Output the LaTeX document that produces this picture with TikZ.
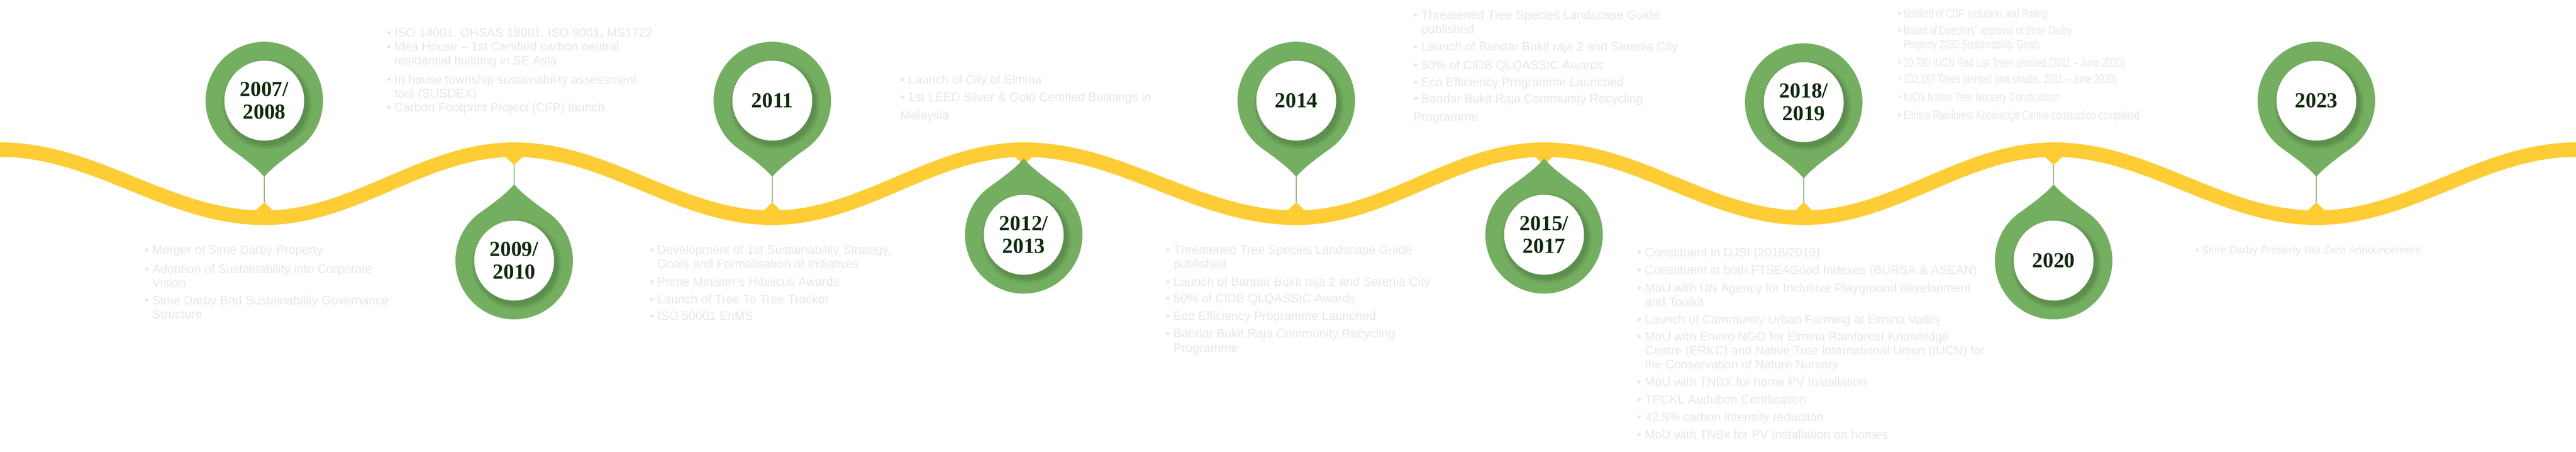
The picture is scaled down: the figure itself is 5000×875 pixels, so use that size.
\documentclass[tikz,border=0pt]{standalone}
\usepackage{fontspec}
\setmainfont{Liberation Sans}
\newfontfamily\narrowfont[FakeStretch=0.71]{Liberation Sans}
\newfontfamily\yearfont{Liberation Serif}
\definecolor{pingreen}{RGB}{116,175,97}
\definecolor{wavey}{RGB}{254,204,52}
\definecolor{yeartext}{RGB}{14,42,14}
\definecolor{notecol}{RGB}{231,231,231}
\definecolor{stemcol}{RGB}{140,186,124}
\tikzset{
  yearlabel/.style={align=center, inner sep=0pt, text=yeartext,
    font=\yearfont\bfseries\fontsize{11.8}{12.5}\selectfont},
  notes/.style={align=left, anchor=north west, inner sep=0pt, text=notecol,
    font=\fontsize{6.8}{7.7}\selectfont},
  narrownotes/.style={notes, font=\narrowfont\fontsize{6.9}{7.7}\selectfont},
  smallnotes/.style={notes, font=\fontsize{5.9}{7}\selectfont},
  stemline/.style={draw=stemcol, line width=0.45pt},
  wavestyle/.style={draw=wavey, line width=0.28cm},
}
\newcommand\bl{\textbullet\ }
\newcommand\ind{\hphantom{\textbullet\ }}
\newcommand\topstrut{\rule{0pt}{6pt}}
% pin: x, y, flip (1 = circle above tip, -1 = circle below tip)
\newcommand\pinat[3]{%
  \begin{scope}[shift={(#1,#2)}]
    \begin{scope}[yscale=#3]
      \fill[pingreen] (0,148) .. controls (12,132) and (46,107) .. (54.3:114)
        arc[start angle=54.3, end angle=-234.3, radius=114]
        .. controls (-46,107) and (-12,132) .. (0,148) -- cycle;
    \end{scope}
    \foreach \i in {0,...,7}{\fill[black, opacity=0.022] (5,7) circle[radius={88-1.4*\i}];}
    \fill[white] (0,0) circle[radius=77.5];
  \end{scope}}
\newcommand\bumpup[1]{\fill[wavey] (#1-20,411) -- (#1,392) -- (#1+20,411) -- cycle;}
\newcommand\bumpdown[1]{\fill[wavey] (#1-20,301) -- (#1,320) -- (#1+20,301) -- cycle;}

\begin{document}
\begin{tikzpicture}[x=0.01cm, y=-0.01cm]
\useasboundingbox (0,0) rectangle (5000,875);
\fill[white] (0,0) rectangle (5000,875);

% wave
\draw[wavestyle] (-40,290) -- (0,290)
  .. controls (186,290) and (327,422) .. (513,422)
  .. controls (689,422) and (822,290) .. (998,290)
  .. controls (1180,290) and (1317,422) .. (1499,422)
  .. controls (1676,422) and (1810,290) .. (1987,290)
  .. controls (2179,290) and (2324,422) .. (2516,422)
  .. controls (2691,422) and (2822,290) .. (2997,290)
  .. controls (3180,290) and (3318,422) .. (3501,422)
  .. controls (3677,422) and (3810,290) .. (3986,290)
  .. controls (4171,290) and (4311,422) .. (4496,422)
  .. controls (4679,422) and (4817,290) .. (5000,290) -- (5040,290);

% bumps on the wave
\bumpup{513}\bumpup{1499}\bumpup{2516}\bumpup{3501}\bumpup{4496}
\bumpdown{998}\bumpdown{1987}\bumpdown{2997}\bumpdown{3986}

% stems
\foreach \x in {513,1499,2516,3501,4496}{
  \coordinate (tip\x) at (\x,343);
  \coordinate (apex\x) at (\x,392);
  \draw[stemline] (tip\x) -- (apex\x);
}
\foreach \x/\c in {998/505,3986/505}{
  \coordinate (tip\x) at (\x,\c-148);
  \coordinate (apex\x) at (\x,320);
  \draw[stemline] (apex\x) -- (tip\x);
}

% pins
\pinat{513}{195}{1}
\pinat{1499}{195}{1}
\pinat{2516}{195}{1}
\pinat{3501}{198}{1}
\pinat{4496}{195}{1}
\pinat{998}{505}{-1}
\pinat{1987}{455}{-1}
\pinat{2997}{455}{-1}
\pinat{3986}{505}{-1}

% year labels
\node[yearlabel] (y1) at (513,195) {2007/\\2008};
\node[yearlabel] (y2) at (998,505) {2009/\\2010};
\node[yearlabel] (y3) at (1499,195) {2011};
\node[yearlabel] (y4) at (1987,455) {2012/\\2013};
\node[yearlabel] (y5) at (2516,195) {2014};
\node[yearlabel] (y6) at (2997,455) {2015/\\2017};
\node[yearlabel] (y7) at (3501,198) {2018/\\2019};
\node[yearlabel] (y8) at (3986,505) {2020};
\node[yearlabel] (y9) at (4496,195) {2023};

% text blocks
\node[notes] (t1) at (280,471) {\topstrut\bl Merger of Sime Darby Property\\[2.6pt]
\bl Adoption of Sustainability into Corporate\\
\ind Vision\\[2pt]
\bl Sime Darby Bhd Sustainability Governance\\
\ind Structure};

\node[notes] (t2) at (750,50) {\topstrut\bl ISO 14001, OHSAS 18001, ISO 9001, MS1722\\
\bl Idea House – 1st Certified carbon neutral\\
\ind residential building in SE Asia\\[2.6pt]
\bl In house township sustainability assessment\\
\ind tool (SUSDEX)\\
\bl Carbon Footprint Project (CFP) launch};

\node[notes] (t3) at (1260,471) {\topstrut\bl Development of 1st Sustainability Strategy,\\
\ind Goals and Formalisation of Initiatives\\[2pt]
\bl Prime Minister’s Hibiscus Awards\\[2pt]
\bl Launch of Tree To Tree Tracker\\[1.4pt]
\bl ISO 50001 EnMS};

\node[notes] (t4) at (1747,141) {\topstrut\bl Launch of City of Elmina\\[2pt]
\bl 1st LEED Silver \& Gold Certified Buildings in\\[2pt]
Malaysia};

\node[notes] (t5) at (2262,471) {\topstrut\bl Threatened Tree Species Landscape Guide\\
\ind published\\[2pt]
\bl Launch of Bandar Bukit raja 2 and Serenia City\\[1.6pt]
\bl 50\% of CIDB QLQASSIC Awards\\[2pt]
\bl Eco Efficiency Programme Launched\\[2pt]
\bl Bandar Bukit Raja Community Recycling\\
\ind Programme};

\node[notes] (t6) at (2743,16) {\topstrut\bl Threatened Tree Species Landscape Guide\\
\ind published\\[1.8pt]
\bl Launch of Bandar Bukit raja 2 and Serenia City\\[2.6pt]
\bl 50\% of CIDB QLQASSIC Awards\\[1.6pt]
\bl Eco Efficiency Programme Launched\\[1.4pt]
\bl Bandar Bukit Raja Community Recycling\\[2.2pt]
Programme};

\node[notes] (t7) at (3177,476) {\topstrut\bl Constituent in DJSI (2018/2019)\\[2pt]
\bl Constituent in both FTSE4Good Indexes (BURSA \& ASEAN)\\[2pt]
\bl MoU with UN Agency for Inclusive Playground development\\
\ind and Toolkit\\[2pt]
\bl Launch of Community Urban Farming at Elmina Valley\\[1.7pt]
\bl MoU with Enviro NGO for Elmina Rainforest Knowledge\\
\ind Centre (ERKC) and Native Tree International Union (IUCN) for\\
\ind the Conservation of Nature Nursery\\[2pt]
\bl MoU with TNBX for home PV Installation\\[2pt]
\bl TPCKL Audubon Certification\\[2pt]
\bl 42.5\% carbon intensity reduction\\[2pt]
\bl MoU with TNBx for PV Installation on homes};

\node[narrownotes] (t8) at (3683,13) {\topstrut\bl Notified of CDP Inclusion and Rating\\[1.7pt]
\bl Board of Directors’ approval of Sime Darby\\
\ind Property 2030 Sustainability Goals\\[2.2pt]
\bl 20,790 IUCN Red List Trees planted (2011 – June 2020)\\[1.4pt]
\bl 102,167 Trees planted (not shrubs, 2011 – June 2020)\\[2.2pt]
\bl IUCN Native Tree Nursery Construction\\[2.2pt]
\bl Elmina Rainforest Knowledge Centre constuction completed};

\node[smallnotes] (t9) at (4260,470) {\topstrut\bl Sime Darby Property Net Zero Announcement};

\end{tikzpicture}
\end{document}
